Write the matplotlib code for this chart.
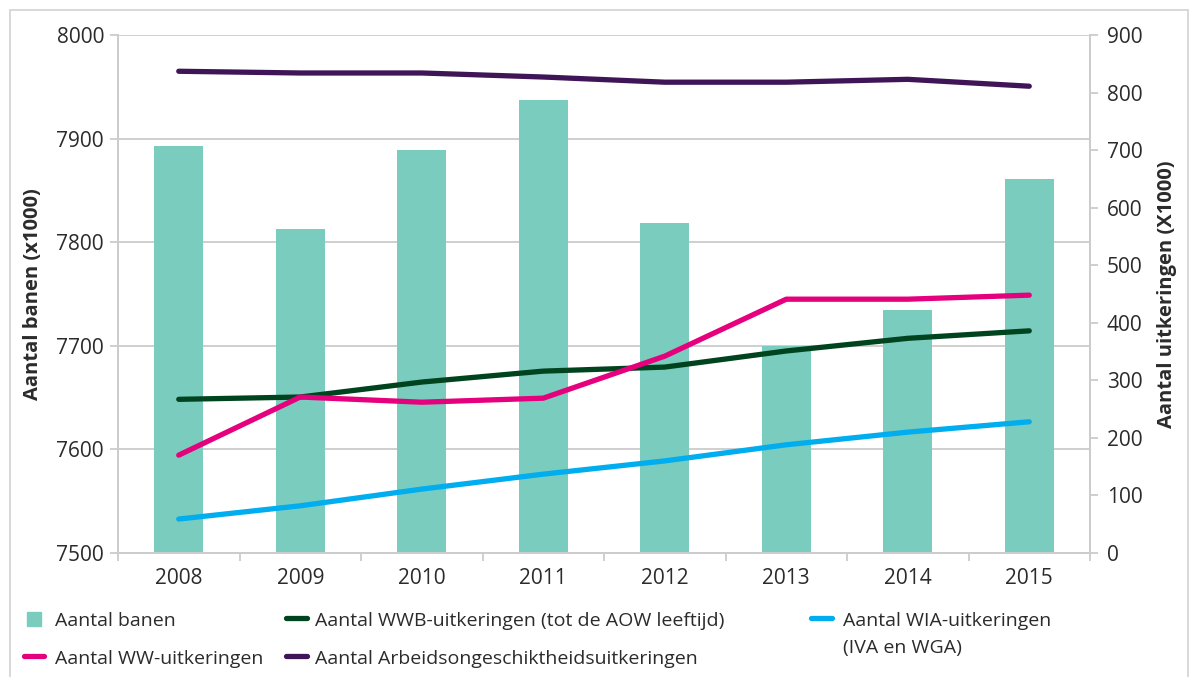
import matplotlib
matplotlib.use("Agg")
import matplotlib.pyplot as plt
from matplotlib.lines import Line2D
from matplotlib.patches import Rectangle
import numpy as np

plt.rcParams['font.family'] = ['Open Sans', 'DejaVu Sans']

years = ['2008', '2009', '2010', '2011', '2012', '2013', '2014', '2015']
banen = [7893, 7813, 7889, 7937, 7819, 7700, 7735, 7861]
ww = [170, 271, 262, 269, 342, 441, 441, 448]
wwb = [267, 271, 297, 316, 323, 351, 373, 386]
wia = [59, 82, 111, 137, 160, 188, 210, 228]
arbeid = [837, 834, 834, 827, 818, 818, 823, 811]

left_ticks = [7500, 7600, 7700, 7800, 7900, 8000]
right_ticks = [0, 100, 200, 300, 400, 500, 600, 700, 800, 900]

c_bar = '#7ACCBF'
c_ww = '#E5007D'
c_wwb = '#00441F'
c_wia = '#00AEEF'
c_arb = '#3F1558'
c_grid = '#CCCCCC'
c_text = '#2B2B2B'

W, H = 1192, 677
fig = plt.figure(figsize=(W / 100, H / 100), dpi=100)
ax = fig.add_axes([118 / W, 1 - 553 / H, (1090 - 118) / W, (553 - 35) / H])
ax2 = ax.twinx()

x = np.arange(len(years))
ax.bar(x, banen, width=0.4, color=c_bar, zorder=2)
ax.set_ylim(7500, 8000)
ax.set_xlim(-0.5, len(years) - 0.5)
ax.set_yticks(left_ticks)
ax.yaxis.grid(True, color=c_grid, linewidth=1.3, zorder=0)
ax.set_axisbelow(True)

lw = 3.8
for vals, col in [(arbeid, c_arb), (wwb, c_wwb), (ww, c_ww), (wia, c_wia)]:
    ax2.plot(x, vals, color=col, linewidth=lw, solid_capstyle='round', solid_joinstyle='round')
ax2.set_ylim(0, 900)
ax2.set_yticks(right_ticks)

ax.set_xticks(x)
ax.set_xticklabels(years)
ax.set_xticks(np.arange(-0.5, len(years), 1.0), minor=True)
ax.tick_params(axis='x', which='major', length=0, pad=11, labelsize=15, labelcolor=c_text)
ax.tick_params(axis='x', which='minor', length=6, width=1.3, color=c_grid, direction='out')
ax.tick_params(axis='y', length=6, width=1.3, color=c_grid, labelsize=15, labelcolor=c_text, pad=4)
ax2.tick_params(axis='y', length=6, width=1.3, color=c_grid, labelsize=15, labelcolor=c_text, pad=6)

for a in (ax, ax2):
    a.spines['top'].set_visible(False)
    for s in ('left', 'right', 'bottom'):
        a.spines[s].set_color(c_grid)
        a.spines[s].set_linewidth(1.3)

ax.set_ylabel('Aantal banen (x1000)', fontsize=14.5, fontweight='bold', color=c_text)
ax.yaxis.set_label_coords(-0.077, 0.5)
ax2.set_ylabel('Aantal uitkeringen (X1000)', fontsize=14.5, fontweight='bold', color=c_text, rotation=90)
ax2.yaxis.set_label_coords(1.069, 0.5)

# legend drawn in figure pixel space
lax = fig.add_axes([0, 0, 1, 1], facecolor='none')
lax.set_xlim(0, W)
lax.set_ylim(H, 0)
lax.axis('off')
fs = 14
lax.plot([33.5], [618.5], marker='s', markersize=10, color=c_bar, linestyle='none')
lax.text(55, 626, 'Aantal banen', fontsize=fs, color=c_text, va='baseline')
lax.plot([24, 44], [656, 656], color=c_ww, linewidth=lw, solid_capstyle='round')
lax.text(55, 664, 'Aantal WW-uitkeringen', fontsize=fs, color=c_text, va='baseline')
lax.plot([286, 307], [618, 618], color=c_wwb, linewidth=lw, solid_capstyle='round')
lax.text(315, 626, 'Aantal WWB-uitkeringen (tot de AOW leeftijd)', fontsize=fs, color=c_text, va='baseline')
lax.plot([286, 307], [656, 656], color=c_arb, linewidth=lw, solid_capstyle='round')
lax.text(315, 664, 'Aantal Arbeidsongeschiktheidsuitkeringen', fontsize=fs, color=c_text, va='baseline')
lax.plot([811, 832], [618, 618], color=c_wia, linewidth=lw, solid_capstyle='round')
lax.text(843, 626, 'Aantal WIA-uitkeringen', fontsize=fs, color=c_text, va='baseline')
lax.text(843, 653, '(IVA en WGA)', fontsize=fs, color=c_text, va='baseline')

fig.patches.append(Rectangle((10 / W, -0.02), (1188 - 10) / W, 1.02 - 10 / H,
                             transform=fig.transFigure, fill=False, edgecolor='#D5D5D5',
                             linewidth=1.3))

fig.savefig('out.png', dpi=100)
